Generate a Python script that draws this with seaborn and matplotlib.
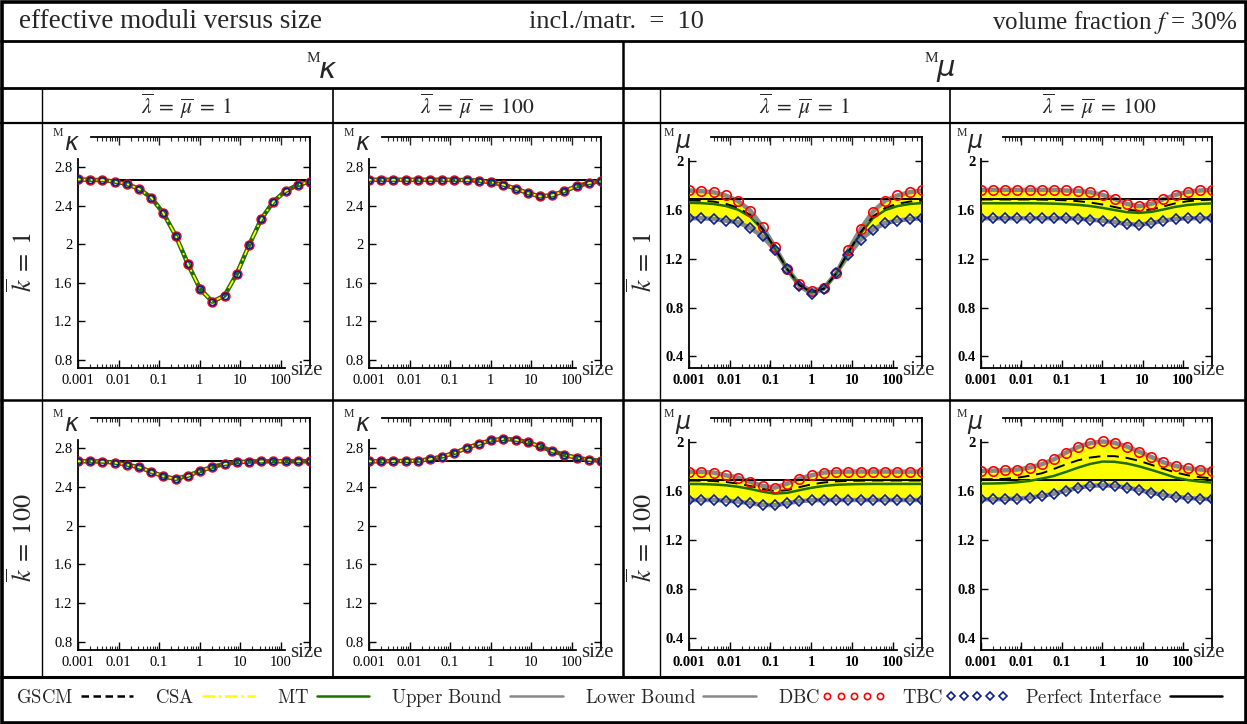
import numpy as np
import pandas as pd
import matplotlib
matplotlib.use("Agg")
import matplotlib.pyplot as plt
import seaborn as sns
from matplotlib.lines import Line2D
from matplotlib.patches import Rectangle
from matplotlib.ticker import FixedLocator, NullFormatter
from matplotlib.font_manager import FontProperties

# ---------------- data ----------------
size = [0.001, 0.002, 0.004, 0.008, 0.016, 0.032, 0.064, 0.128, 0.256, 0.512,
        1.024, 2.048, 4.096, 8.192, 16.384, 32.768, 65.536, 131.072, 262.144, 524.288]

x_ticks = [0.001, 0.01, 0.1, 1, 10, 100]
x_ticklabels = ["0.001", "0.01", "0.1", "1", "10", "100"]
kappa_yticks = [0.8, 1.2, 1.6, 2.0, 2.4, 2.8]
kappa_yticklabels = ["0.8", "1.2", "1.6", "2", "2.4", "2.8"]
mu_yticks = [0.4, 0.8, 1.2, 1.6, 2.0]
mu_yticklabels = ["0.4", "0.8", "1.2", "1.6", "2"]

perfect_kappa = 2.667
perfect_mu = 1.692

# effective bulk modulus (all methods / bounds coincide)
kappa_k1_l1 = [2.670, 2.666, 2.664, 2.648, 2.624, 2.572, 2.482, 2.320, 2.088, 1.795,
               1.536, 1.405, 1.467, 1.692, 1.988, 2.258, 2.441, 2.551, 2.613, 2.648]
kappa_k1_l100 = [2.667, 2.667, 2.667, 2.667, 2.667, 2.667, 2.667, 2.666, 2.664, 2.658,
                 2.640, 2.617, 2.575, 2.530, 2.495, 2.506, 2.550, 2.600, 2.634, 2.651]
kappa_k100_l1 = [2.664, 2.664, 2.661, 2.650, 2.629, 2.602, 2.556, 2.508, 2.482, 2.515,
                 2.563, 2.605, 2.636, 2.654, 2.661, 2.663, 2.664, 2.664, 2.664, 2.664]
kappa_k100_l100 = [2.664, 2.664, 2.666, 2.667, 2.670, 2.685, 2.713, 2.750, 2.800, 2.845,
                   2.880, 2.894, 2.887, 2.860, 2.817, 2.770, 2.730, 2.700, 2.680, 2.670]

# effective shear modulus, k=1, lambda=mu=1
mu_up_k1_l1 = [1.761, 1.755, 1.747, 1.720, 1.676, 1.596, 1.464, 1.299, 1.120, 0.991,
               0.936, 0.960, 1.080, 1.271, 1.445, 1.588, 1.678, 1.720, 1.747, 1.761]
mu_lo_k1_l1 = [1.533, 1.533, 1.527, 1.513, 1.500, 1.453, 1.384, 1.274, 1.115, 0.977,
               0.914, 0.955, 1.082, 1.230, 1.357, 1.439, 1.494, 1.513, 1.527, 1.533]
mu_gscm_k1_l1 = [1.680, 1.677, 1.670, 1.652, 1.620, 1.560, 1.447, 1.290, 1.118, 0.985,
                 0.926, 0.956, 1.080, 1.258, 1.420, 1.548, 1.618, 1.652, 1.670, 1.678]
mu_csa_k1_l1 = [1.664, 1.661, 1.654, 1.638, 1.607, 1.549, 1.440, 1.286, 1.117, 0.984,
                0.925, 0.955, 1.079, 1.254, 1.413, 1.537, 1.604, 1.637, 1.654, 1.662]
mu_mt_k1_l1 = [1.660, 1.657, 1.650, 1.634, 1.603, 1.545, 1.437, 1.284, 1.116, 0.984,
               0.925, 0.955, 1.078, 1.252, 1.410, 1.533, 1.600, 1.633, 1.650, 1.658]

# k=1, lambda=mu=100
mu_up_k1_l100 = [1.766, 1.766, 1.766, 1.766, 1.766, 1.766, 1.766, 1.761, 1.758, 1.747,
                 1.725, 1.692, 1.651, 1.632, 1.651, 1.690, 1.725, 1.750, 1.761, 1.766]
mu_lo_k1_l100 = [1.533, 1.533, 1.533, 1.533, 1.533, 1.533, 1.533, 1.533, 1.530, 1.522,
                 1.513, 1.500, 1.486, 1.480, 1.494, 1.513, 1.527, 1.533, 1.533, 1.533]
mu_gscm_k1_l100 = [1.687, 1.687, 1.687, 1.687, 1.687, 1.686, 1.684, 1.680, 1.673, 1.662,
                   1.646, 1.625, 1.604, 1.594, 1.605, 1.630, 1.656, 1.673, 1.682, 1.686]
mu_csa_k1_l100 = [1.660, 1.660, 1.660, 1.660, 1.660, 1.659, 1.657, 1.653, 1.647, 1.637,
                  1.622, 1.604, 1.587, 1.581, 1.589, 1.609, 1.631, 1.646, 1.655, 1.659]
mu_mt_k1_l100 = [1.656, 1.656, 1.656, 1.656, 1.656, 1.655, 1.653, 1.649, 1.643, 1.633,
                 1.618, 1.600, 1.583, 1.577, 1.585, 1.605, 1.627, 1.642, 1.651, 1.655]

# k=100, lambda=mu=1
mu_up_k100_l1 = [1.762, 1.760, 1.754, 1.732, 1.713, 1.678, 1.645, 1.631, 1.664, 1.705,
                 1.732, 1.754, 1.760, 1.762, 1.762, 1.762, 1.762, 1.762, 1.762, 1.762]
mu_lo_k100_l1 = [1.530, 1.530, 1.530, 1.525, 1.517, 1.503, 1.490, 1.487, 1.503, 1.520,
                 1.528, 1.530, 1.530, 1.530, 1.530, 1.530, 1.530, 1.530, 1.530, 1.530]
mu_gscm_k100_l1 = [1.689, 1.688, 1.685, 1.677, 1.664, 1.644, 1.620, 1.602, 1.610, 1.635,
                   1.658, 1.673, 1.682, 1.686, 1.688, 1.689, 1.689, 1.689, 1.689, 1.689]
mu_csa_k100_l1 = [1.665, 1.664, 1.661, 1.654, 1.642, 1.624, 1.602, 1.586, 1.592, 1.614,
                  1.634, 1.649, 1.658, 1.662, 1.664, 1.665, 1.665, 1.665, 1.665, 1.665]
mu_mt_k100_l1 = [1.661, 1.660, 1.657, 1.650, 1.638, 1.620, 1.598, 1.582, 1.588, 1.610,
                 1.630, 1.645, 1.654, 1.658, 1.660, 1.661, 1.661, 1.661, 1.661, 1.661]

# k=100, lambda=mu=100
mu_up_k100_l100 = [1.768, 1.770, 1.773, 1.779, 1.795, 1.822, 1.863, 1.918, 1.964, 1.995,
                   2.008, 1.997, 1.967, 1.926, 1.882, 1.838, 1.809, 1.789, 1.779, 1.770]
mu_lo_k100_l100 = [1.535, 1.535, 1.538, 1.541, 1.549, 1.563, 1.582, 1.606, 1.631, 1.645,
                   1.650, 1.645, 1.631, 1.612, 1.590, 1.571, 1.557, 1.546, 1.541, 1.535]
mu_gscm_k100_l100 = [1.699, 1.700, 1.703, 1.712, 1.728, 1.748, 1.784, 1.822, 1.855, 1.877,
                     1.889, 1.888, 1.874, 1.850, 1.818, 1.785, 1.755, 1.732, 1.716, 1.707]
mu_csa_k100_l100 = [1.668, 1.669, 1.672, 1.679, 1.690, 1.709, 1.731, 1.764, 1.799, 1.829,
                    1.848, 1.846, 1.832, 1.809, 1.780, 1.749, 1.717, 1.697, 1.684, 1.676]
mu_mt_k100_l100 = [1.664, 1.665, 1.668, 1.675, 1.686, 1.705, 1.727, 1.760, 1.795, 1.825,
                   1.844, 1.842, 1.828, 1.805, 1.776, 1.745, 1.713, 1.693, 1.680, 1.672]

# ---------------- style ----------------
sns.set_style("white")
plt.rcParams["font.family"] = ["Liberation Serif", "DejaVu Serif"]
plt.rcParams["mathtext.fontset"] = "stix"

C_GRAY = "#888888"
C_GREEN = "#1f6e00"
C_YELLOW = "#ffff00"
C_RED = "#ff0000"
C_BLUE = "#0a1f8f"

W, H = 1247, 724
fig = plt.figure(figsize=(W / 100, H / 100), dpi=100)


def fx(px):
    return px / W


def fy(py):
    return 1 - py / H


col_px = [(78, 310), (369, 601), (689, 922), (981, 1212)]
row_px = [(137, 368), (418, 650)]

minor_all = [m * d for d in [0.001, 0.01, 0.1, 1, 10, 100] for m in range(2, 10)]


def setup_axes(ax, kind):
    ax.set_xscale("log")
    ax.set_xlim(size[0], size[-1])
    if kind == "kappa":
        ax.set_ylim(0.718, 3.11)
        ax.set_yticks(kappa_yticks)
        ax.set_yticklabels(kappa_yticklabels)
        ax.spines["left"].set_bounds(0.718, 2.885)
        top_start = 0.0021
        weight = "normal"
    else:
        ax.set_ylim(0.304, 2.20)
        ax.set_yticks(mu_yticks)
        ax.set_yticklabels(mu_yticklabels)
        ax.spines["left"].set_bounds(0.304, 2.02)
        top_start = 0.0035
        weight = "bold"
    ax.xaxis.set_major_locator(FixedLocator(x_ticks))
    ax.set_xticklabels(x_ticklabels)
    ax.xaxis.set_minor_locator(FixedLocator([m for m in minor_all if m < 120]))
    ax.xaxis.set_minor_formatter(NullFormatter())
    ax.spines["bottom"].set_bounds(size[0], 130)
    ax.spines["top"].set_visible(False)
    for s in ["left", "bottom", "right"]:
        ax.spines[s].set_visible(True)
        ax.spines[s].set_color("black")
        ax.spines[s].set_linewidth(1.3)
    ax.tick_params(axis="y", which="major", direction="in", left=True, right=True,
                   length=5, width=1.0, pad=4, labelsize=10.5, colors="black")
    ax.tick_params(axis="x", which="major", direction="in", bottom=True, top=False,
                   length=6, width=1.0, pad=4, labelsize=10.5, colors="black")
    ax.tick_params(axis="x", which="minor", direction="in", bottom=True, top=False,
                   length=3, width=0.8)
    for lab in ax.get_xticklabels() + ax.get_yticklabels():
        lab.set_fontweight(weight)
    sec = ax.secondary_xaxis("top")
    sec.xaxis.set_major_locator(FixedLocator([t for t in x_ticks if t > top_start]))
    sec.xaxis.set_major_formatter(NullFormatter())
    sec.xaxis.set_minor_locator(FixedLocator([m for m in minor_all if m > top_start]))
    sec.xaxis.set_minor_formatter(NullFormatter())
    sec.tick_params(axis="x", which="major", direction="in", length=6, width=1.0)
    sec.tick_params(axis="x", which="minor", direction="in", length=3, width=0.8)
    sec.spines["top"].set_bounds(top_start, size[-1])
    sec.spines["top"].set_linewidth(1.3)
    sec.spines["top"].set_color("black")
    ax.set_xlabel("")
    ax.set_ylabel("")
    ax.text(0.985, -0.012, "size", transform=ax.transAxes, ha="center", va="center",
            fontsize=15, clip_on=False)
    sym = r"$\kappa$" if kind == "kappa" else r"$\mu$"
    ax.text(-0.085, 1.018, "M", transform=ax.transAxes, ha="center", va="center",
            fontsize=8.5)
    ax.text(-0.025, 0.975, sym, transform=ax.transAxes, ha="center", va="center",
            fontsize=17, fontfamily="DejaVu Sans", math_fontfamily="dejavusans")


def kappa_panel(ax, vals):
    sns.lineplot(x=size, y=vals, ax=ax, color=C_GRAY, lw=3.2, legend=False,
                 errorbar=None, zorder=2)
    sns.lineplot(x=size, y=vals, ax=ax, color="black", lw=1.4, linestyle=(0, (5, 3)),
                 legend=False, errorbar=None, zorder=3)
    sns.lineplot(x=size, y=vals, ax=ax, color=C_GREEN, lw=3.0, legend=False,
                 errorbar=None, zorder=4)
    sns.lineplot(x=size, y=vals, ax=ax, color=C_YELLOW, lw=1.3,
                 linestyle=(0, (5, 2, 1.2, 2)), legend=False, errorbar=None, zorder=5)
    ax.axhline(perfect_kappa, color="black", lw=1.4, zorder=3.5)
    sns.lineplot(x=size, y=vals, ax=ax, color=C_RED, linestyle="none", marker="o",
                 markersize=6.5, markerfacecolor="none", markeredgecolor=C_RED,
                 markeredgewidth=1.0, legend=False, errorbar=None, zorder=6)
    sns.lineplot(x=size, y=vals, ax=ax, color=C_BLUE, linestyle="none", marker="o",
                 markersize=4.6, markerfacecolor="none", markeredgecolor=C_BLUE,
                 markeredgewidth=1.3, legend=False, errorbar=None, zorder=7)
    setup_axes(ax, "kappa")


def mu_panel(ax, up, lo, gscm, csa, mt):
    ax.fill_between(size, lo, up, color=C_YELLOW, lw=0, zorder=1)
    sns.lineplot(x=size, y=up, ax=ax, color=C_GRAY, lw=3.2, legend=False,
                 errorbar=None, zorder=2)
    sns.lineplot(x=size, y=lo, ax=ax, color=C_GRAY, lw=3.2, legend=False,
                 errorbar=None, zorder=2)
    ax.axhline(perfect_mu, color="black", lw=1.4, zorder=3)
    sns.lineplot(x=size, y=csa, ax=ax, color=C_YELLOW, lw=1.3,
                 linestyle=(0, (5, 2, 1.2, 2)), legend=False, errorbar=None, zorder=3)
    sns.lineplot(x=size, y=mt, ax=ax, color=C_GREEN, lw=1.8, legend=False,
                 errorbar=None, zorder=4)
    sns.lineplot(x=size, y=gscm, ax=ax, color="black", lw=1.4, linestyle=(0, (6, 3.5)),
                 legend=False, errorbar=None, zorder=4)
    sns.lineplot(x=size, y=up, ax=ax, color=C_RED, linestyle="none", marker="o",
                 markersize=6.8, markerfacecolor="none", markeredgecolor=C_RED,
                 markeredgewidth=1.2, legend=False, errorbar=None, zorder=6)
    sns.lineplot(x=size, y=lo, ax=ax, color=C_BLUE, linestyle="none", marker="D",
                 markersize=4.8, markerfacecolor="none", markeredgecolor=C_BLUE,
                 markeredgewidth=1.2, legend=False, errorbar=None, zorder=6)
    setup_axes(ax, "mu")


def make_ax(r, c):
    (x0, x1), (y0, y1) = col_px[c], row_px[r]
    ax = fig.add_axes([fx(x0), fy(y1), (x1 - x0) / W, (y1 - y0) / H])
    ax.patch.set_alpha(0)
    return ax


kappa_panel(make_ax(0, 0), kappa_k1_l1)
kappa_panel(make_ax(0, 1), kappa_k1_l100)
kappa_panel(make_ax(1, 0), kappa_k100_l1)
kappa_panel(make_ax(1, 1), kappa_k100_l100)
mu_panel(make_ax(0, 2), mu_up_k1_l1, mu_lo_k1_l1, mu_gscm_k1_l1, mu_csa_k1_l1, mu_mt_k1_l1)
mu_panel(make_ax(0, 3), mu_up_k1_l100, mu_lo_k1_l100, mu_gscm_k1_l100, mu_csa_k1_l100,
         mu_mt_k1_l100)
mu_panel(make_ax(1, 2), mu_up_k100_l1, mu_lo_k100_l1, mu_gscm_k100_l1, mu_csa_k100_l1,
         mu_mt_k100_l1)
mu_panel(make_ax(1, 3), mu_up_k100_l100, mu_lo_k100_l100, mu_gscm_k100_l100,
         mu_csa_k100_l100, mu_mt_k100_l100)

# ---------------- table frame ----------------
def hline(y, x0, x1, lw):
    fig.add_artist(Line2D([fx(x0), fx(x1)], [fy(y), fy(y)], color="black", lw=lw,
                          transform=fig.transFigure, solid_capstyle="butt"))


def vline(x, y0, y1, lw):
    fig.add_artist(Line2D([fx(x), fx(x)], [fy(y0), fy(y1)], color="black", lw=lw,
                          transform=fig.transFigure, solid_capstyle="butt"))


fig.add_artist(Rectangle((fx(1.5), fy(722.5)), fx(1244), 721 / H, fill=False,
                         edgecolor="black", lw=2.6, transform=fig.transFigure))
hline(41, 0, W, 2.0)
hline(88, 0, W, 2.0)
hline(123, 0, W, 1.6)
hline(400, 0, W, 1.8)
hline(677, 0, W, 2.2)
vline(623, 41, 677, 1.8)
vline(42, 88, 677, 1.0)
vline(333, 88, 677, 1.2)
vline(660, 88, 677, 1.0)
vline(950, 88, 677, 1.2)

# ---------------- header texts ----------------
fig.text(fx(19), fy(22), "effective moduli versus size", fontsize=19.5, ha="left",
         va="center")
fig.text(fx(616), fy(22), "incl./matr.  =  10", fontsize=19, ha="center", va="center")
fig.text(fx(1238), fy(22), r"volume fraction $f$ = 30%", fontsize=18, ha="right",
         va="center")

for cx, sym in [(325, r"$\kappa$"), (943, r"$\mu$")]:
    fig.text(fx(cx - 12), fy(59), "M", fontsize=11, ha="center", va="center")
    fig.text(fx(cx + 3), fy(70), sym, fontsize=21, ha="center", va="center",
             fontfamily="DejaVu Sans", math_fontfamily="dejavusans")

for cx, txt in [(187, r"$\overline{\lambda}\;=\;\overline{\mu}\;=\;1$"),
                (477, r"$\overline{\lambda}\;=\;\overline{\mu}\;=\;100$"),
                (805, r"$\overline{\lambda}\;=\;\overline{\mu}\;=\;1$"),
                (1099, r"$\overline{\lambda}\;=\;\overline{\mu}\;=\;100$")]:
    fig.text(fx(cx), fy(106), txt, fontsize=15.5, ha="center", va="center")

for cx in [22, 642]:
    fig.text(fx(cx), fy(262), r"$\overline{k}\;=\;1$", fontsize=19, rotation=90,
             ha="center", va="center")
    fig.text(fx(cx), fy(538), r"$\overline{k}\;=\;100$", fontsize=19, rotation=90,
             ha="center", va="center")

# ---------------- legend ----------------
handles = [
    Line2D([], [], color="black", lw=1.8, linestyle=(0, (3, 1.8))),
    Line2D([], [], color=C_YELLOW, lw=1.8, linestyle=(0, (5, 1.5, 1, 1.5))),
    Line2D([], [], color=C_GREEN, lw=1.8),
    Line2D([], [], color=C_GRAY, lw=1.8),
    Line2D([], [], color=C_GRAY, lw=1.8),
    Line2D([], [], color=C_RED, linestyle="none", marker="o", markersize=4.5,
           markerfacecolor="none", markeredgewidth=1.2),
    Line2D([], [], color=C_BLUE, linestyle="none", marker="D", markersize=4,
           markerfacecolor="none", markeredgewidth=1.2),
    Line2D([], [], color="black", lw=1.8),
]
labels = [r"$\mathrm{GSCM}$", r"$\mathrm{CSA}$", r"$\mathrm{MT}$",
          r"$\mathrm{Upper\ Bound}$", r"$\mathrm{Lower\ Bound}$", r"$\mathrm{DBC}$",
          r"$\mathrm{TBC}$", r"$\mathrm{Perfect\ Interface}$"]
leg_prop = FontProperties(family="DejaVu Serif", size=13.5, math_fontfamily="cm")
fig.legend(handles, labels, loc="center", bbox_to_anchor=(fx(622), fy(698)), ncol=8,
           frameon=False, markerfirst=False, numpoints=5, handlelength=3.4,
           handletextpad=0.1, columnspacing=0.88, prop=leg_prop)

fig.savefig("out.png", dpi=100)
